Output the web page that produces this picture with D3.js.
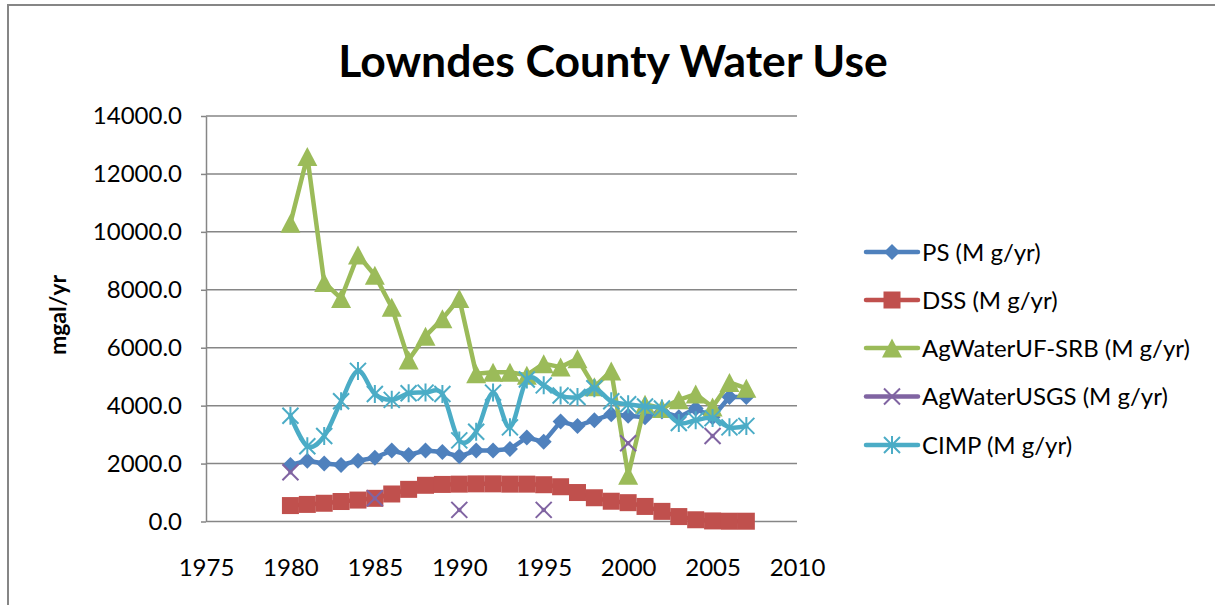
<!DOCTYPE html>
<html>
<head>
<meta charset="utf-8">
<script src="https://cdn.jsdelivr.net/npm/d3@7"></script>
<style>
  html, body { margin: 0; padding: 0; background: #fff; }
  svg { display: block; }
  text { font-family: Lato, "Open Sans", sans-serif; fill: #000; }
</style>
</head>
<body>
<svg id="chart" width="1215" height="605"></svg>
<script>
const title = "Lowndes County Water Use";
const yAxisTitle = "mgal/yr";
const years = [1980,1981,1982,1983,1984,1985,1986,1987,1988,1989,1990,1991,1992,1993,1994,1995,1996,1997,1998,1999,2000,2001,2002,2003,2004,2005,2006,2007];
const xTicks = [1975,1980,1985,1990,1995,2000,2005,2010];
const yTicks = [0,2000,4000,6000,8000,10000,12000,14000];

const seriesNames = ["PS (M g/yr)","DSS (M g/yr)","AgWaterUF-SRB (M g/yr)","AgWaterUSGS (M g/yr)","CIMP (M g/yr)"];
const ps   = [1950,2100,2000,1950,2100,2200,2450,2300,2450,2400,2250,2450,2450,2500,2900,2750,3450,3300,3500,3700,3650,3600,3800,3600,3900,3600,4300,4300];
const dss  = [550,590,630,690,740,800,950,1110,1250,1280,1290,1300,1300,1290,1290,1270,1200,1000,820,700,650,520,350,170,60,20,10,10];
const agUF = [10300,12600,8250,7700,9200,8500,7400,5580,6400,7000,7700,5100,5150,5150,5050,5450,5330,5620,4650,5200,1600,4050,3900,4200,4400,3950,4800,4600];
const agUSGS = [1700,null,null,null,null,800,null,null,null,null,400,null,null,null,null,400,null,null,null,null,2700,null,null,null,null,2950,null,null];
const cimp = [3650,2600,2950,4150,5200,4400,4200,4430,4450,4400,2800,3100,4450,3250,4900,4700,4350,4300,4600,4150,4050,3970,3900,3400,3500,3570,3250,3300];

const colors = ["#4F81BD","#C0504D","#9BBB59","#8064A2","#4BACC6"];
const markers = ["diamond","square","triangle","x","star"];
const smooth = [false,false,false,false,true];
const allSeries = [ps, dss, agUF, agUSGS, cimp];

const svg = d3.select("#chart");
const grid = "#868686";

// outer chart border (cropped at right/bottom)
svg.append("path").attr("d","M8,606 L8,5 L1216,5").attr("fill","none").attr("stroke",grid).attr("stroke-width",2);

const x = d3.scaleLinear().domain([1975,2010]).range([206,797]);
const y = d3.scaleLinear().domain([0,14000]).range([521.5,116]);

// gridlines
svg.append("g").selectAll("line").data(yTicks).join("line")
  .attr("x1", x(1975)).attr("x2", x(2010))
  .attr("y1", d => y(d)).attr("y2", d => y(d))
  .attr("stroke", grid).attr("stroke-width", 1.5);

// y axis
const yAxis = svg.append("g").attr("transform","translate(206,0)")
  .call(d3.axisLeft(y).tickValues(yTicks).tickFormat(d3.format(".1f")).tickSize(5).tickPadding(19).tickSizeOuter(0));
yAxis.select(".domain").attr("stroke", grid).attr("stroke-width",1.5);
yAxis.selectAll(".tick line").attr("stroke", grid).attr("stroke-width",1.5);
yAxis.selectAll("text").attr("font-size",24).attr("font-family","Lato").attr("fill","#000");

// x axis labels
const xAxis = svg.append("g").attr("transform","translate(0,521.5)")
  .call(d3.axisBottom(x).tickValues(xTicks).tickFormat(d3.format("d")).tickSize(0).tickPadding(37));
xAxis.select(".domain").remove();
xAxis.selectAll("text").attr("font-size",24).attr("font-family","Lato").attr("fill","#000");

// title
svg.append("text").attr("x",613).attr("y",77).attr("text-anchor","middle")
  .attr("font-size",44.5).attr("font-weight","bold").text(title);

// y axis title
svg.append("text").attr("transform","translate(58,315) rotate(-90)").attr("text-anchor","middle")
  .attr("dy","0.35em").attr("font-size",23).attr("font-weight","bold").text(yAxisTitle);

function drawMarker(g, type, color, cx, cy) {
  if (type === "diamond") {
    const r = 8;
    g.append("path").attr("d",`M${cx},${cy-r}L${cx+r},${cy}L${cx},${cy+r}L${cx-r},${cy}Z`).attr("fill",color);
  } else if (type === "square") {
    const r = 8.5;
    g.append("rect").attr("x",cx-r).attr("y",cy-r).attr("width",2*r).attr("height",2*r).attr("fill",color);
  } else if (type === "triangle") {
    const w = 10, h = 9.5;
    g.append("path").attr("d",`M${cx},${cy-h}L${cx+w},${cy+h}L${cx-w},${cy+h}Z`).attr("fill",color);
  } else if (type === "x") {
    const r = 8;
    g.append("path").attr("d",`M${cx-r},${cy-r}L${cx+r},${cy+r}M${cx-r},${cy+r}L${cx+r},${cy-r}`)
      .attr("stroke",color).attr("stroke-width",2).attr("fill","none");
  } else if (type === "star") {
    const r = 8;
    g.append("path").attr("d",`M${cx-r},${cy-r}L${cx+r},${cy+r}M${cx-r},${cy+r}L${cx+r},${cy-r}M${cx},${cy-r-1}L${cx},${cy+r+1}`)
      .attr("stroke",color).attr("stroke-width",2).attr("fill","none");
  }
}

allSeries.forEach((vals, i) => {
  const pts = years.map((yr, j) => ({yr, v: vals[j]}));
  const line = d3.line().defined(d => d.v != null).x(d => x(d.yr)).y(d => y(d.v))
    .curve(smooth[i] ? d3.curveCardinal.tension(0) : d3.curveLinear);
  const g = svg.append("g");
  g.append("path").datum(pts).attr("d", line).attr("fill","none")
    .attr("stroke", colors[i]).attr("stroke-width", 4.5).attr("stroke-linejoin","round").attr("stroke-linecap","round");
  pts.filter(d => d.v != null).forEach(d => drawMarker(g, markers[i], colors[i], x(d.yr), y(d.v)));
});

// legend
const legendY = [252, 300, 348, 396.5, 445];
seriesNames.forEach((name, i) => {
  const g = svg.append("g");
  g.append("line").attr("x1",866).attr("x2",918).attr("y1",legendY[i]).attr("y2",legendY[i])
    .attr("stroke",colors[i]).attr("stroke-width",4.5).attr("stroke-linecap","round");
  drawMarker(g, markers[i], colors[i], 892, legendY[i]);
  g.append("text").attr("x",922).attr("y",legendY[i]).attr("dy","0.36em")
    .attr("font-size",24).text(name);
});
</script>
</body>
</html>
